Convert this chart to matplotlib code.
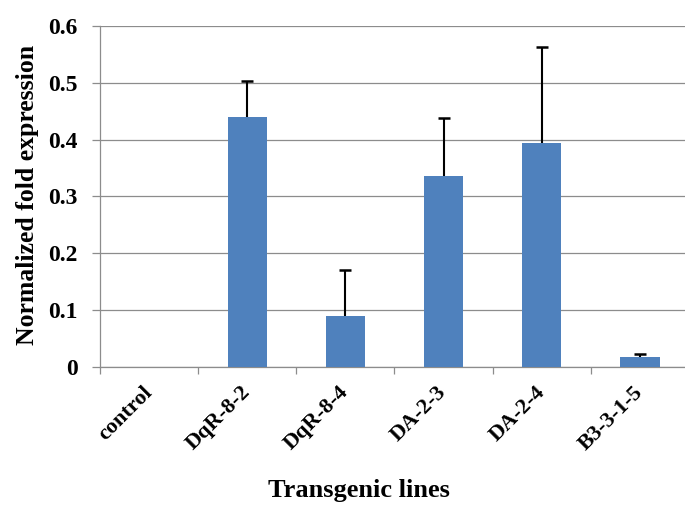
import numpy as np
import matplotlib.pyplot as plt

lines = ["control", "DqR-8-2", "DqR-8-4", "DA-2-3", "DA-2-4", "B3-3-1-5"]
fold_expression = [0.0, 0.440, 0.089, 0.336, 0.394, 0.018]
upper_error = [0.0, 0.063, 0.081, 0.102, 0.169, 0.005]

plt.rcParams['font.family'] = ['Liberation Serif', 'DejaVu Serif']
plt.rcParams['font.weight'] = 'bold'

fig = plt.figure(figsize=(6.85, 5.08), dpi=100)
ax = fig.add_axes([100 / 685, 141 / 508, 589 / 685, 341 / 508])

x = np.arange(len(lines))
vals = np.array(fold_expression)
err = np.array(upper_error)
ax.bar(x, vals, width=0.4, color='#4F81BD', zorder=3)

# upper-only error bars: stem from bar top plus a cap
has_err = err > 0
ax.vlines(x[has_err], vals[has_err], (vals + err)[has_err],
          color='black', linewidth=1.5, zorder=4)
ax.plot(x[has_err], (vals + err)[has_err], linestyle='none', marker='_',
        markersize=8, markeredgewidth=1.8, color='black', zorder=4)

ax.set_xlim(-0.5, len(lines) - 0.5)
ax.set_ylim(0, 0.6)
ax.set_yticks(np.arange(0, 0.61, 0.1))
ax.set_yticklabels(['0', '0.1', '0.2', '0.3', '0.4', '0.5', '0.6'],
                   fontsize=17, fontweight='bold')
ax.yaxis.grid(True, color='#8c8c8c', linewidth=0.9, zorder=0)
ax.tick_params(axis='y', length=6, width=0.9, color='#8c8c8c', pad=10)

# category boundary ticks, labels at centres
ax.set_xticks(np.arange(-0.5, len(lines), 1.0))
ax.set_xticklabels([])
ax.set_xticks(x, minor=True)
ax.set_xticklabels(lines, minor=True, rotation=45, ha='right',
                   va='center', rotation_mode='anchor',
                   fontsize=16, fontweight='bold')
ax.tick_params(axis='x', which='major', length=5, width=0.9,
               color='#8c8c8c', direction='out')
ax.tick_params(axis='x', which='minor', length=0, pad=16)

for side in ['top', 'right']:
    ax.spines[side].set_visible(False)
for side in ['left', 'bottom']:
    ax.spines[side].set_color('#8c8c8c')
    ax.spines[side].set_linewidth(0.9)

fig.text(359 / 685, 17 / 508, 'Transgenic lines', ha='center', va='center',
         fontsize=19, fontweight='bold')
fig.text(28 / 685, 1 - 195 / 508, 'Normalized fold expression', rotation=90,
         ha='center', va='center', fontsize=18.5, fontweight='bold')

fig.savefig('out.png', dpi=100)
